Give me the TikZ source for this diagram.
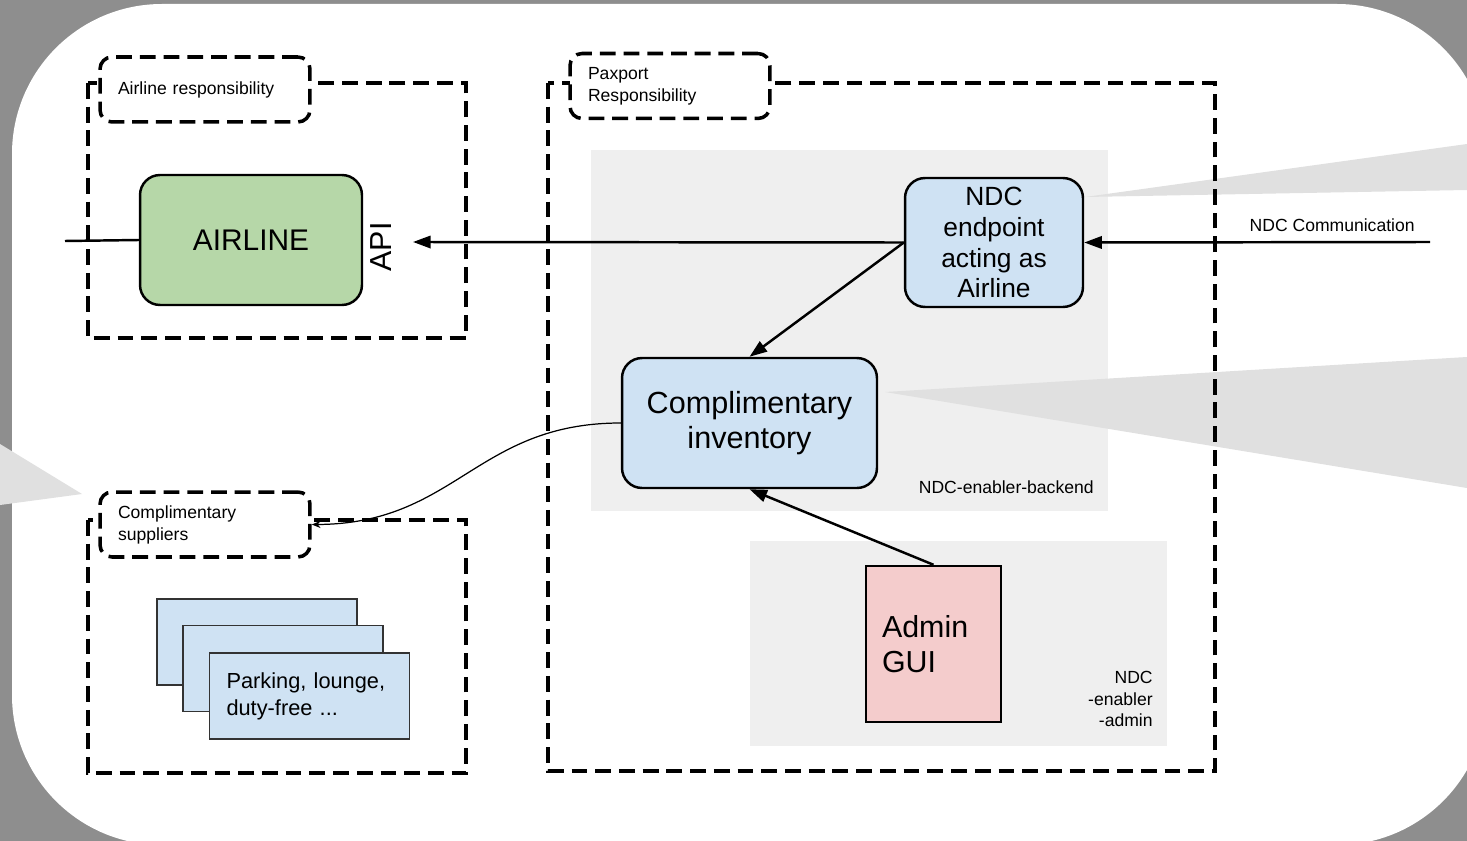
\documentclass[tikz,border=0pt]{standalone}
\usepackage{fontspec}
\setmainfont{Liberation Sans}
\usetikzlibrary{positioning,arrows.meta}
\definecolor{slidegray}{HTML}{8E8E8E}
\definecolor{calloutgray}{HTML}{E0E0E0}
\definecolor{zonegray}{HTML}{EFEFEF}
\definecolor{airlinegreen}{HTML}{B6D7A8}
\definecolor{ndcblue}{HTML}{CFE2F3}
\definecolor{adminpink}{HTML}{F4CCCC}
\newcommand{\fs}[2]{\fontsize{#1}{#2}\selectfont}

\begin{document}
\begin{tikzpicture}[x=0.02cm, y=-0.02cm,
  grpline/.style={draw, line width=2pt, dash pattern=on 9pt off 4.5pt},
  grplabel/.style={grpline, fill=white, rounded corners=0.24cm, align=left,
    inner sep=0pt, minimum height=1.3cm, font=\fs{10}{12.5}},
  rbox/.style={draw, line width=1.4pt, rounded corners=0.4cm, align=center,
    inner sep=0pt},
  card/.style={draw=black!80, line width=0.9pt, fill=ndcblue,
    minimum width=4cm, minimum height=1.72cm, inner sep=0pt},
  flow/.style={-{Triangle[length=10pt, width=7pt]}, line width=1.4pt},
  link/.style={-{Stealth[length=5pt, width=4pt]}, line width=0.7pt}]
  \useasboundingbox (0,0) rectangle (1467,841);
  \clip (0,0) rectangle (1467,841);
  % slide background
  \fill[slidegray] (0,0) rectangle (1467,841);
  \fill[white, rounded corners=3cm] (12,4) rectangle (1487,845);
  % grey zones of the backend and the admin
  \fill[zonegray] (591,150) rectangle (1108,511);
  \fill[zonegray] (750,541) rectangle (1167,746);
  % callout wedges
  \fill[calloutgray] (0,444) -- (82,494) -- (0,505) -- cycle;
  \fill[calloutgray] (1085,197) -- (1467,144) -- (1467,190) -- cycle;
  \fill[calloutgray] (885,392) -- (1467,357) -- (1467,488) -- cycle;
  % responsibility areas
  \draw[grpline] (88,83) rectangle (466,338);
  \draw[grpline] (88,520) rectangle (466,773);
  \draw[grpline] (548,83) rectangle (1215,771);
  \node[grplabel, minimum width=4.2cm, text width=3.48cm] (airlab) at (205,89.5)
    {Airline responsibility};
  \node[grplabel, minimum width=4.2cm, text width=3.48cm] (supplab) at (205,524.5)
    {Complimentary\\suppliers};
  \node[grplabel, minimum width=4cm, text width=3.28cm] (paxlab) at (670,86)
    {Paxport\\Responsibility};
  % boxes
  \node[rbox, fill=airlinegreen, minimum width=4.44cm, minimum height=2.6cm,
    font=\fs{17}{20}] (airline) at (251,240) {AIRLINE};
  \node[rotate=90, inner sep=0pt, font=\fs{17.3}{20}] (api) at (381,247) {API};
  \node[rbox, fill=ndcblue, minimum width=3.56cm, minimum height=2.58cm,
    font=\fs{15}{17.6}] (ndc) at (994,242.5) {NDC\\endpoint\\acting as\\Airline};
  \node[rbox, fill=ndcblue, minimum width=5.1cm, minimum height=2.6cm,
    font=\fs{17.4}{20.5}] (inventory) at (749.5,423)
    {\raisebox{-4pt}{\shortstack{Complimentary\\[1pt]inventory}}};
  \node[draw, line width=1.4pt, fill=adminpink, minimum width=2.7cm,
    minimum height=3.12cm, inner sep=0pt, text width=2.06cm, align=left,
    font=\fs{17.3}{20}] (admin) at (933.5,644) {Admin\\GUI};
  \foreach \i in {0,1}
    \node[card] (card\i) at ({257+26*\i},{642+26.5*\i}) {};
  \node[card, text width=3.32cm, align=left, font=\fs{12.4}{15.4}] (card2)
    at (309.5,696) {Parking, lounge,\\duty-free ...};
  % zone names
  \node[anchor=east, inner sep=0pt, font=\fs{10}{12}] (backendlab) at (1094,487)
    {NDC-enabler-backend};
  \node[anchor=east, inner sep=0pt, align=right, font=\fs{10}{12}] (adminlab)
    at (1153,699) {NDC\\-enabler\\-admin};
  % connectors
  \coordinate (leftin) at (65,241);
  \coordinate (apiin) at (413,242);
  \coordinate (ndcin) at (1430,242);
  \draw[line width=1.4pt] (leftin) -- (airline.west);
  \draw[flow] (ndc.west) -- (apiin);
  \draw[flow] (ndcin) -- (ndc.east)
    node[pos=0.283, above=2pt, font=\fs{10}{12}] {NDC Communication};
  \draw[flow] (ndc.west) -- (inventory.north);
  \draw[flow] (admin.north) -- (inventory.south);
  \draw[link] (inventory.west) .. controls (476,423) and (456,524) .. (supplab.east);
\end{tikzpicture}
\end{document}
